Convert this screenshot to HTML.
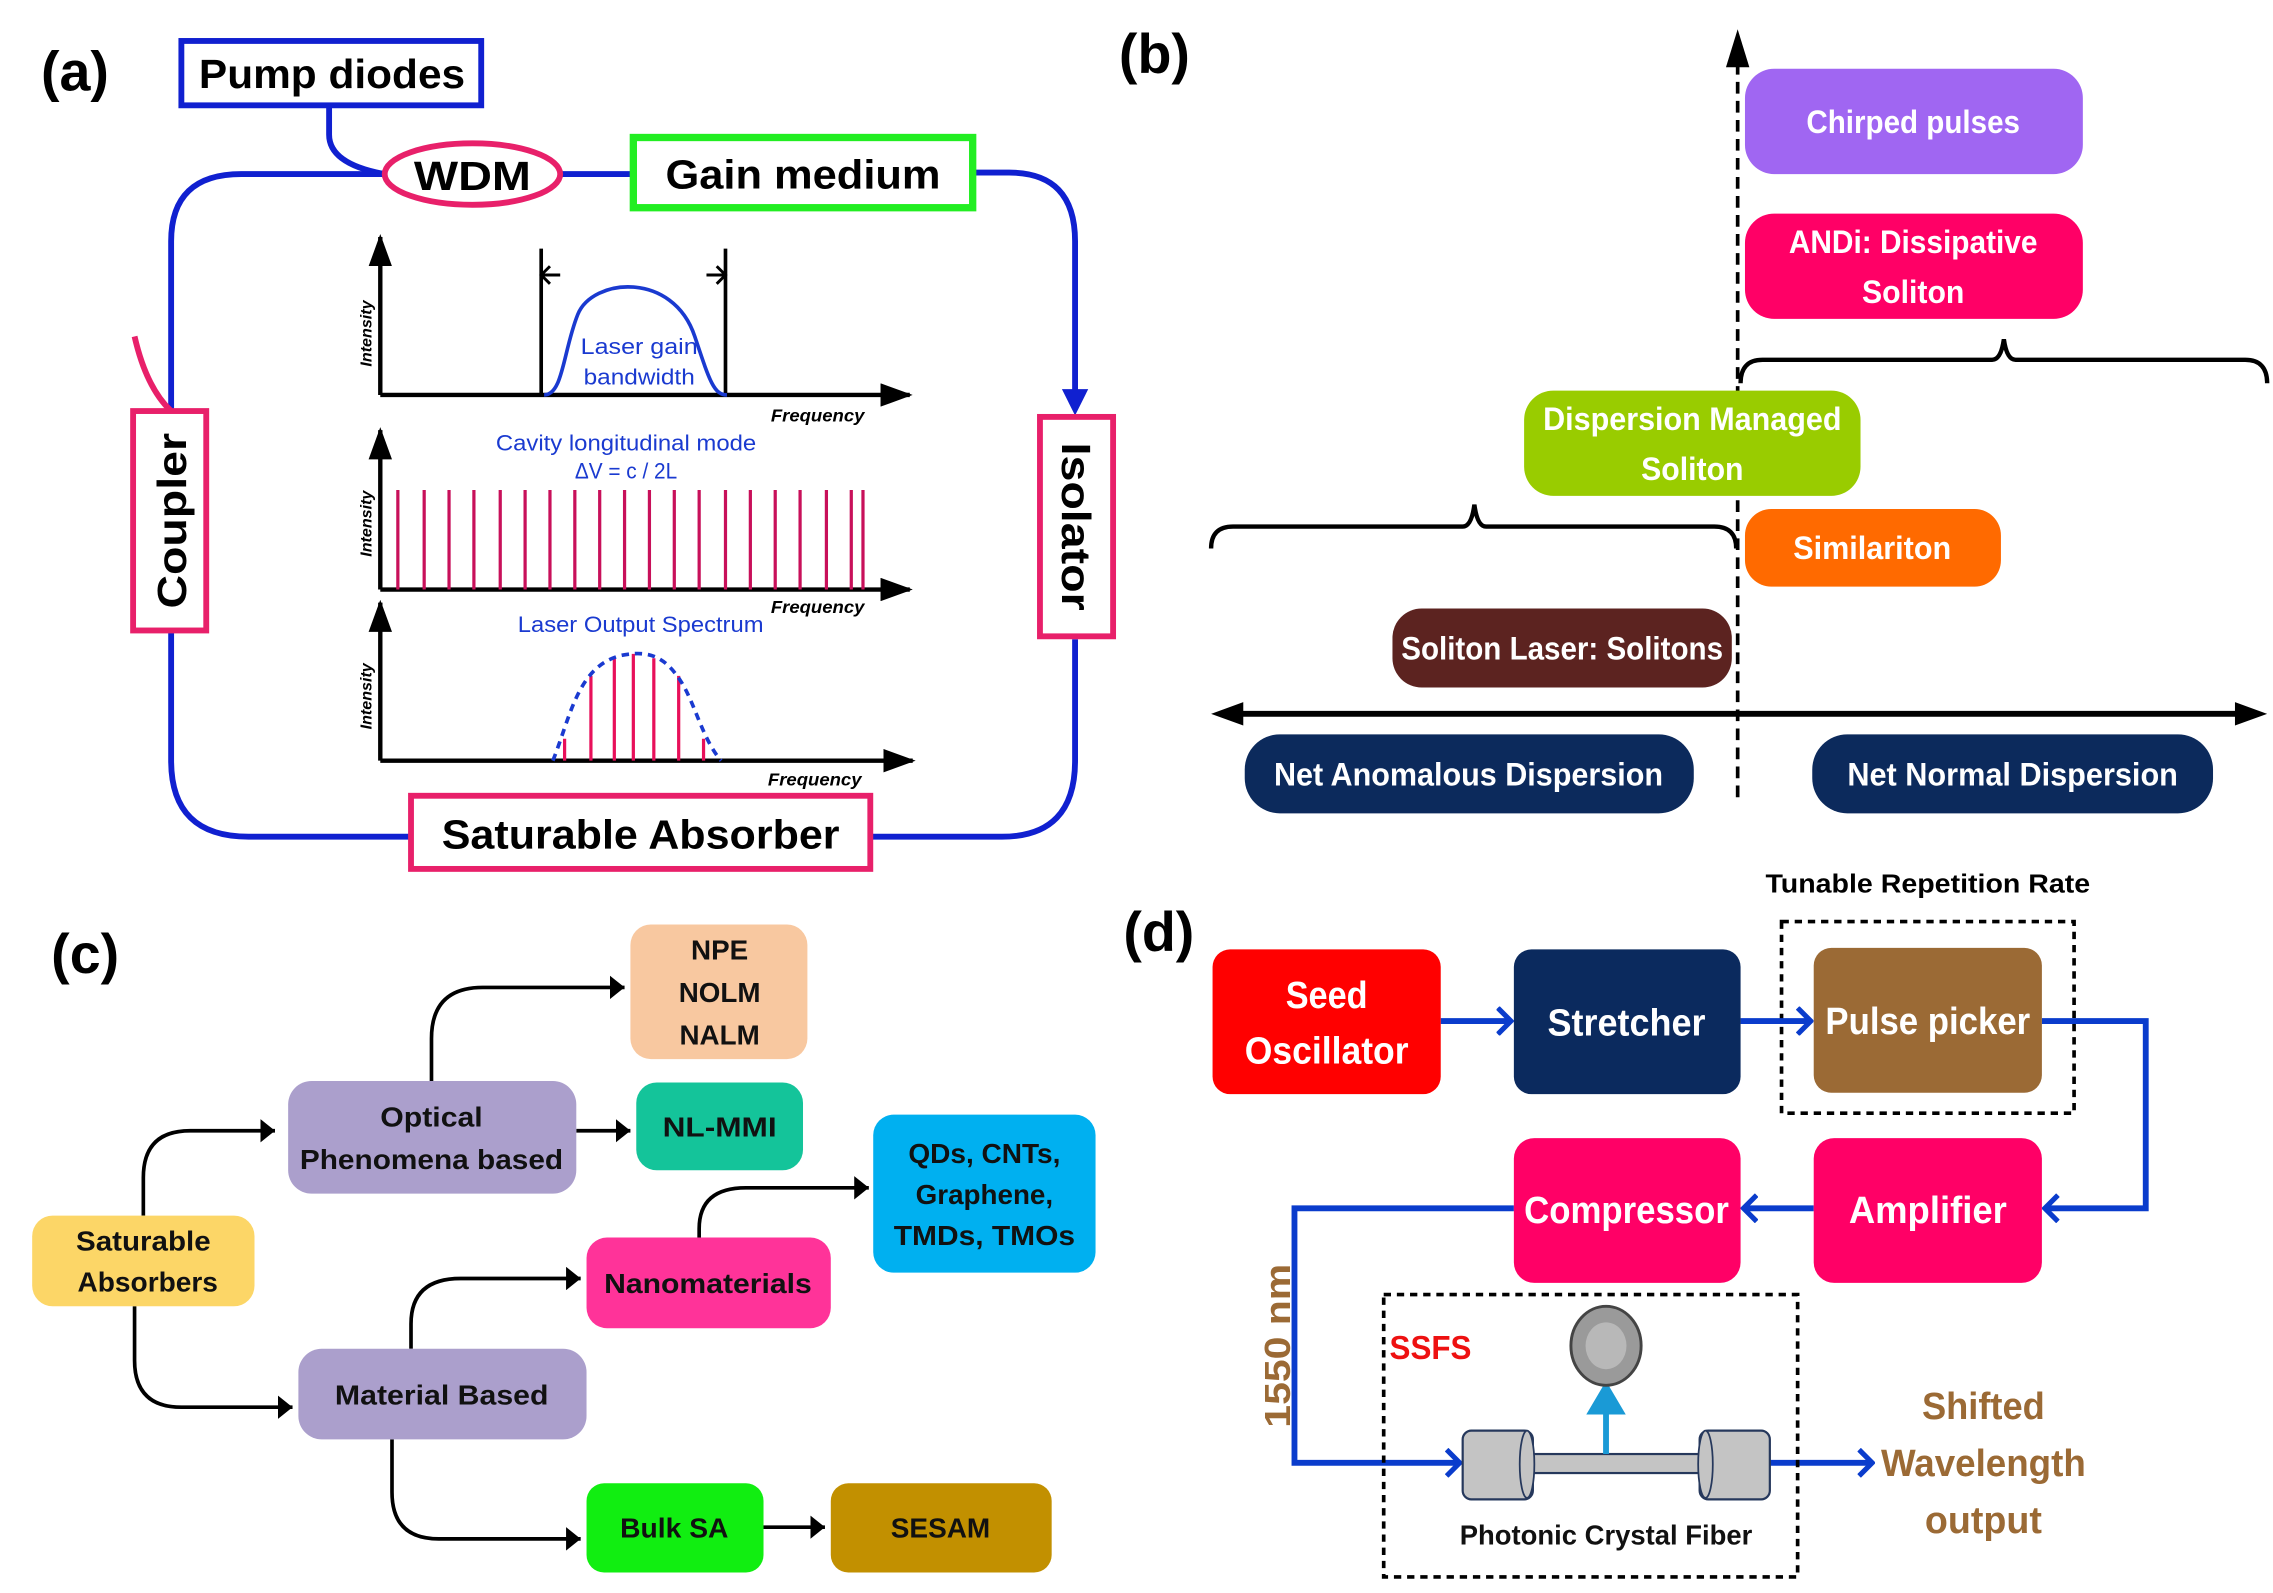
<!DOCTYPE html>
<html><head><meta charset="utf-8"><style>
html,body{margin:0;padding:0;background:#fff;}
svg{display:block;}
text{font-family:"Liberation Sans",sans-serif;font-weight:bold;}
.w{fill:#fff;}
</style></head><body>
<svg width="2273" height="1593" viewBox="0 0 1554 1089" preserveAspectRatio="none" xmlns="http://www.w3.org/2000/svg">
<defs>
<marker id="abig" markerWidth="22" markerHeight="16" refX="20" refY="8" orient="auto" markerUnits="userSpaceOnUse"><path d="M0,0 L22,8 L0,16 z" fill="#000"/></marker>
<marker id="bc" markerWidth="12" markerHeight="20" refX="10" refY="10" orient="auto" markerUnits="userSpaceOnUse"><path d="M1,1 L10,10 L1,19" fill="none" stroke="#0a3ccc" stroke-width="3.5"/></marker>
<marker id="ca" markerWidth="12" markerHeight="16" refX="10" refY="8" orient="auto" markerUnits="userSpaceOnUse"><path d="M0,0 L10,8 L0,16 z" fill="#000"/></marker>
</defs>

<!-- ===== (a) ===== -->
<text x="28" y="62" font-size="38">(a)</text>
<path d="M225,72 V92 Q225,112 263,119" fill="none" stroke="#1020d0" stroke-width="4"/>
<path d="M263,119 H165 Q117,119 117,165 V281" fill="none" stroke="#1020d0" stroke-width="4"/>
<path d="M117,431 V520 Q117,572 170,572 H281" fill="none" stroke="#1020d0" stroke-width="4"/>
<path d="M595,572 H685 Q735,572 735,520 V437" fill="none" stroke="#1020d0" stroke-width="4"/>
<path d="M383,119 H433" fill="none" stroke="#1020d0" stroke-width="4"/>
<path d="M665,118 H690 Q735,118 735,165 V270" fill="none" stroke="#1020d0" stroke-width="4"/>
<path d="M726,266 L735,284 L744,266 Z" fill="#1020d0"/>
<path d="M117,281 Q100,265 92,230" fill="none" stroke="#e8206a" stroke-width="4"/>
<rect x="124" y="28" width="205" height="44" fill="#fff" stroke="#1020d0" stroke-width="4"/>
<text x="227" y="60" font-size="28" text-anchor="middle" textLength="182" lengthAdjust="spacingAndGlyphs">Pump diodes</text>
<ellipse cx="323" cy="119" rx="60" ry="21" fill="#fff" stroke="#e8206a" stroke-width="4"/>
<text x="323" y="130" font-size="28" text-anchor="middle" textLength="80" lengthAdjust="spacingAndGlyphs">WDM</text>
<rect x="433" y="94" width="232" height="48" fill="#fff" stroke="#22ee22" stroke-width="5"/>
<text x="549" y="129" font-size="28" text-anchor="middle" textLength="188" lengthAdjust="spacingAndGlyphs">Gain medium</text>
<rect x="91" y="281" width="50" height="150" fill="#fff" stroke="#e8206a" stroke-width="4"/>
<text transform="translate(127,356) rotate(-90)" font-size="28" text-anchor="middle" textLength="120" lengthAdjust="spacingAndGlyphs">Coupler</text>
<rect x="711" y="285" width="50" height="150" fill="#fff" stroke="#e8206a" stroke-width="4"/>
<text transform="translate(726,360) rotate(90)" font-size="28" text-anchor="middle" textLength="115" lengthAdjust="spacingAndGlyphs">Isolator</text>
<rect x="281" y="544" width="314" height="50" fill="#fff" stroke="#e8206a" stroke-width="4"/>
<text x="438" y="580" font-size="28" text-anchor="middle" textLength="272" lengthAdjust="spacingAndGlyphs">Saturable Absorber</text>

<!-- plots -->
<g stroke="#000" stroke-width="3" fill="none">
<path d="M260,270 V162" marker-end="url(#abig)"/>
<path d="M260,270 H622" marker-end="url(#abig)"/>
<path d="M260,403 V294" marker-end="url(#abig)"/>
<path d="M260,403 H622" marker-end="url(#abig)"/>
<path d="M260,520 V412" marker-end="url(#abig)"/>
<path d="M260,520 H624" marker-end="url(#abig)"/>
<path d="M370,170 V270 M496,170 V270" stroke-width="2.5"/>
<path d="M370,188 H383 M376,182 L370,188 L376,194 M496,188 H483 M490,182 L496,188 L490,194" stroke-width="2"/>
</g>
<g font-size="11" font-style="italic" fill="#000">
<text transform="translate(254,228) rotate(-90)" text-anchor="middle">Intensity</text>
<text transform="translate(254,358) rotate(-90)" text-anchor="middle">Intensity</text>
<text transform="translate(254,476) rotate(-90)" text-anchor="middle">Intensity</text>
<text x="527" y="288" font-size="12" textLength="64" lengthAdjust="spacingAndGlyphs">Frequency</text>
<text x="527" y="419" font-size="12" textLength="64" lengthAdjust="spacingAndGlyphs">Frequency</text>
<text x="525" y="537" font-size="12" textLength="64" lengthAdjust="spacingAndGlyphs">Frequency</text>
</g>
<path d="M372,270 C385,270 385,240 395,215 C405,190 460,185 475,230 C485,260 488,270 497,270" fill="none" stroke="#1a3ad0" stroke-width="2.5"/>
<g font-size="15" fill="#1a3ad0" text-anchor="middle">
<text x="437" y="242" style="font-weight:normal" textLength="80" lengthAdjust="spacingAndGlyphs">Laser  gain</text>
<text x="437" y="263" style="font-weight:normal" textLength="76" lengthAdjust="spacingAndGlyphs">bandwidth</text>
<text x="428" y="308" style="font-weight:normal" textLength="178" lengthAdjust="spacingAndGlyphs">Cavity longitudinal mode</text>
<text x="428" y="327" style="font-weight:normal" textLength="70" lengthAdjust="spacingAndGlyphs">ΔV = c / 2L</text>
<text x="438" y="432" style="font-weight:normal" textLength="168" lengthAdjust="spacingAndGlyphs">Laser Output Spectrum</text>
</g>
<g stroke="#c8105a" stroke-width="2.2">
<path d="M272,335V403 M290,335V403 M307,335V403 M324,335V403 M342,335V403 M359,335V403 M376,335V403 M393,335V403 M410,335V403 M427,335V403 M444,335V403 M461,335V403 M478,335V403 M496,335V403 M513,335V403 M530,335V403 M547,335V403 M565,335V403 M582,335V403 M590,335V403"/>
<path d="M386,505V520 M404,462V520 M420,450V520 M433,447V520 M447,450V520 M464,462V520 M481,505V520" stroke="#e8105a"/>
</g>
<path d="M378,520 C390,490 395,455 425,448 C445,444 455,450 465,465 C475,480 480,505 493,520" fill="none" stroke="#1a3ad0" stroke-width="2.5" stroke-dasharray="5,4"/>

<!-- ===== (b) ===== -->
<text x="765" y="50" font-size="38">(b)</text>
<path d="M1188,545 V38" stroke="#000" stroke-width="2.5" stroke-dasharray="8,5"/>
<path d="M1180,46 L1188,20 L1196,46 Z" fill="#000"/>
<path d="M840,488 H1540" stroke="#000" stroke-width="4"/>
<path d="M828,488 L850,480 L850,496 Z M1550,488 L1528,480 L1528,496 Z" fill="#000"/>
<path d="M1190,262 Q1190,246 1205,246 H1362 Q1368,246 1370,232 Q1372,246 1378,246 H1535 Q1550,246 1550,262" fill="none" stroke="#000" stroke-width="3"/>
<path d="M828,375 Q828,360 843,360 H1000 Q1006,360 1008,345 Q1010,360 1016,360 H1172 Q1187,360 1187,375" fill="none" stroke="#000" stroke-width="3"/>
<g font-size="22" class="w" text-anchor="middle">
<rect x="1193" y="47" width="231" height="72" rx="20" fill="#a066f2"/>
<text x="1308" y="91" textLength="146" lengthAdjust="spacingAndGlyphs">Chirped pulses</text>
<rect x="1193" y="146" width="231" height="72" rx="20" fill="#ff0066"/>
<text x="1308" y="173" textLength="170" lengthAdjust="spacingAndGlyphs">ANDi: Dissipative</text>
<text x="1308" y="207" textLength="70" lengthAdjust="spacingAndGlyphs">Soliton</text>
<rect x="1042" y="267" width="230" height="72" rx="20" fill="#99cc00"/>
<text x="1157" y="294" textLength="204" lengthAdjust="spacingAndGlyphs">Dispersion Managed</text>
<text x="1157" y="328" textLength="70" lengthAdjust="spacingAndGlyphs">Soliton</text>
<rect x="1193" y="348" width="175" height="53" rx="18" fill="#ff6a00"/>
<text x="1280" y="382" textLength="108" lengthAdjust="spacingAndGlyphs">Similariton</text>
<rect x="952" y="416" width="232" height="54" rx="20" fill="#5c2320"/>
<text x="1068" y="451" textLength="220" lengthAdjust="spacingAndGlyphs">Soliton Laser: Solitons</text>
<rect x="851" y="502" width="307" height="54" rx="24" fill="#0c2a5c"/>
<text x="1004" y="537" textLength="266" lengthAdjust="spacingAndGlyphs">Net Anomalous Dispersion</text>
<rect x="1239" y="502" width="274" height="54" rx="24" fill="#0c2a5c"/>
<text x="1376" y="537" textLength="226" lengthAdjust="spacingAndGlyphs">Net Normal Dispersion</text>
</g>

<!-- ===== (c) ===== -->
<text x="35" y="665" font-size="38">(c)</text>
<g fill="none" stroke="#000" stroke-width="2.5">
<path d="M98,831 V805 Q98,773 130,773 H188" marker-end="url(#ca)"/>
<path d="M92,893 V930 Q92,962 124,962 H200" marker-end="url(#ca)"/>
<path d="M295,739 V710 Q295,675 330,675 H427" marker-end="url(#ca)"/>
<path d="M394,773 H431" marker-end="url(#ca)"/>
<path d="M281,922 V905 Q281,874 315,874 H397" marker-end="url(#ca)"/>
<path d="M268,984 V1020 Q268,1052 300,1052 H397" marker-end="url(#ca)"/>
<path d="M478,846 V840 Q478,812 510,812 H594" marker-end="url(#ca)"/>
<path d="M522,1044 H564" marker-end="url(#ca)"/>
</g>
<g font-size="19" fill="#111" text-anchor="middle">
<rect x="22" y="831" width="152" height="62" rx="14" fill="#fcd667"/>
<text x="98" y="855" textLength="92" lengthAdjust="spacingAndGlyphs">Saturable</text>
<text x="101" y="883" textLength="96" lengthAdjust="spacingAndGlyphs">Absorbers</text>
<rect x="197" y="739" width="197" height="77" rx="16" fill="#ab9fcc"/>
<text x="295" y="770" textLength="70" lengthAdjust="spacingAndGlyphs">Optical</text>
<text x="295" y="799" textLength="180" lengthAdjust="spacingAndGlyphs">Phenomena based</text>
<rect x="204" y="922" width="197" height="62" rx="16" fill="#ab9fcc"/>
<text x="302" y="960" textLength="146" lengthAdjust="spacingAndGlyphs">Material Based</text>
<rect x="431" y="632" width="121" height="92" rx="14" fill="#f8c8a0"/>
<text x="492" y="656">NPE</text>
<text x="492" y="685">NOLM</text>
<text x="492" y="714">NALM</text>
<rect x="435" y="740" width="114" height="60" rx="14" fill="#14c49a"/>
<text x="492" y="777" textLength="78" lengthAdjust="spacingAndGlyphs">NL-MMI</text>
<rect x="597" y="762" width="152" height="108" rx="14" fill="#00b0f0"/>
<text x="673" y="795" textLength="104" lengthAdjust="spacingAndGlyphs">QDs, CNTs,</text>
<text x="673" y="823" textLength="94" lengthAdjust="spacingAndGlyphs">Graphene,</text>
<text x="673" y="851" textLength="124" lengthAdjust="spacingAndGlyphs">TMDs, TMOs</text>
<rect x="401" y="846" width="167" height="62" rx="14" fill="#ff3399"/>
<text x="484" y="884" textLength="142" lengthAdjust="spacingAndGlyphs">Nanomaterials</text>
<rect x="401" y="1014" width="121" height="61" rx="12" fill="#11ee11"/>
<text x="461" y="1051" textLength="74" lengthAdjust="spacingAndGlyphs">Bulk SA</text>
<rect x="568" y="1014" width="151" height="61" rx="12" fill="#c29000"/>
<text x="643" y="1051" textLength="68" lengthAdjust="spacingAndGlyphs">SESAM</text>
</g>

<!-- ===== (d) ===== -->
<text x="768" y="650" font-size="38">(d)</text>
<text x="1318" y="610" font-size="18" text-anchor="middle" textLength="222" lengthAdjust="spacingAndGlyphs">Tunable Repetition Rate</text>
<rect x="1218" y="630" width="200" height="131" fill="none" stroke="#000" stroke-width="2.5" stroke-dasharray="5,4"/>
<g fill="none" stroke="#0a3ccc" stroke-width="4">
<path d="M985,698 H1033" marker-end="url(#bc)"/>
<path d="M1190,698 H1238" marker-end="url(#bc)"/>
<path d="M1396,698 H1467 V826 H1398" marker-end="url(#bc)"/>
<path d="M1240,826 H1192" marker-end="url(#bc)"/>
<path d="M1035,826 H885 V1000 H998" marker-end="url(#bc)"/>
<path d="M1210,1000 H1280" marker-end="url(#bc)"/>
</g>
<g font-size="26" class="w" text-anchor="middle">
<rect x="829" y="649" width="156" height="99" rx="12" fill="#ff0000"/>
<text x="907" y="689" textLength="56" lengthAdjust="spacingAndGlyphs">Seed</text>
<text x="907" y="727" textLength="112" lengthAdjust="spacingAndGlyphs">Oscillator</text>
<rect x="1035" y="649" width="155" height="99" rx="12" fill="#0b2a5e"/>
<text x="1112" y="708" textLength="108" lengthAdjust="spacingAndGlyphs">Stretcher</text>
<rect x="1240" y="648" width="156" height="99" rx="12" fill="#9b6a35"/>
<text x="1318" y="707" textLength="140" lengthAdjust="spacingAndGlyphs">Pulse picker</text>
<rect x="1035" y="778" width="155" height="99" rx="14" fill="#ff0066"/>
<text x="1112" y="836" textLength="140" lengthAdjust="spacingAndGlyphs">Compressor</text>
<rect x="1240" y="778" width="156" height="99" rx="14" fill="#ff0066"/>
<text x="1318" y="836" textLength="108" lengthAdjust="spacingAndGlyphs">Amplifier</text>
</g>
<text transform="translate(882,920) rotate(-90)" font-size="25" fill="#9b6a35" text-anchor="middle" textLength="112" lengthAdjust="spacingAndGlyphs">1550 nm</text>
<rect x="946" y="885" width="283" height="193" fill="none" stroke="#000" stroke-width="2.5" stroke-dasharray="5,4"/>
<text x="950" y="929" font-size="23" fill="#ee1111" textLength="56" lengthAdjust="spacingAndGlyphs">SSFS</text>
<rect x="1045" y="994" width="120" height="13" fill="#c4c4c4" stroke="#26385c" stroke-width="1.5"/>
<rect x="1000" y="978" width="48" height="47" rx="6" fill="#c4c4c4" stroke="#26385c" stroke-width="1.5"/>
<ellipse cx="1044" cy="1001" rx="5" ry="23" fill="#c4c4c4" stroke="#26385c" stroke-width="1.2"/>
<rect x="1162" y="978" width="48" height="47" rx="6" fill="#c4c4c4" stroke="#26385c" stroke-width="1.5"/>
<ellipse cx="1166" cy="1001" rx="5" ry="23" fill="#c4c4c4" stroke="#26385c" stroke-width="1.2"/>
<path d="M1098,994 V965 H1088 L1098,948 L1108,965 H1098" fill="#1a9ad6" stroke="#1a9ad6" stroke-width="4"/>
<ellipse cx="1098" cy="920" rx="24" ry="27" fill="#9a9a9a" stroke="#444" stroke-width="2"/>
<ellipse cx="1098" cy="920" rx="14" ry="16" fill="#b8b8b8"/>
<text x="1098" y="1056" font-size="19" fill="#111" text-anchor="middle" textLength="200" lengthAdjust="spacingAndGlyphs">Photonic Crystal Fiber</text>
<g font-size="26" fill="#9b6a35" text-anchor="middle">
<text x="1356" y="970" textLength="84" lengthAdjust="spacingAndGlyphs">Shifted</text>
<text x="1356" y="1009" textLength="140" lengthAdjust="spacingAndGlyphs">Wavelength</text>
<text x="1356" y="1048" textLength="80" lengthAdjust="spacingAndGlyphs">output</text>
</g>
</svg>
</body></html>
